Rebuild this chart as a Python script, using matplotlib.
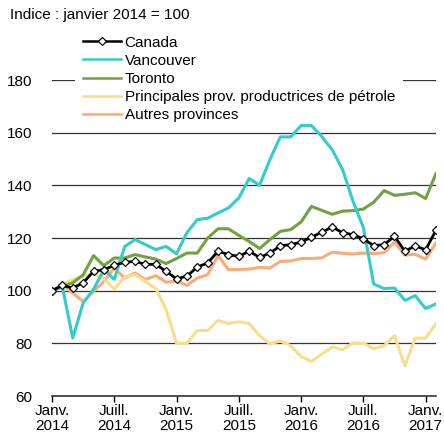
import matplotlib
matplotlib.use("Agg")
import matplotlib.pyplot as plt
import numpy as np

plt.rcParams['font.family'] = ['Liberation Sans', 'DejaVu Sans']
plt.rcParams['font.size'] = 11

# mois : janvier 2014 à février 2017
months = np.arange(38)
tick_pos = [0, 6, 12, 18, 24, 30, 36]
tick_labels = ["Janv.\n2014", "Juill.\n2014", "Janv.\n2015", "Juill.\n2015",
               "Janv.\n2016", "Juill.\n2016", "Janv.\n2017"]

canada = [100, 102, 101, 103, 107.3, 108, 109.6, 110.8, 111.1, 110, 110, 107.3,
          104.5, 105.5, 109, 110.5, 115, 113.7, 113, 115, 112.6, 114.3, 117, 117.5,
          118.4, 120.3, 122.2, 124.2, 122, 121.3, 119.7, 117.1, 117.5, 120.6, 115,
          117, 115.5, 123]
vancouver = [100, 101.5, 82, 95.3, 100.5, 108, 104.3, 116.7, 119.4, 117.5, 115.6,
             116.8, 114, 122, 127, 127.5, 129.5, 131.4, 135.2, 142.6, 140, 149.8,
             158.4, 158.4, 162.7, 162.7, 158.5, 153.5, 146, 134, 124, 102.5, 100.8,
             101, 96.3, 98.1, 93.2, 95]
toronto = [100, 101.6, 103, 106, 113.3, 109.5, 112.4, 112.4, 113.7, 112.8, 112,
           110.3, 112.2, 114.3, 114.3, 120, 123.5, 123.5, 121, 118.7, 116, 119.4,
           122.5, 123.2, 126.1, 132, 130.5, 129, 130.2, 130.4, 131, 133.6, 138,
           136.2, 136.6, 137.2, 135, 144.5]
petrole = [100, 102.3, 104.2, 105.4, 106.5, 104.6, 100.5, 105.3, 106.1, 103.5,
           100.8, 92.8, 80, 80, 84.9, 84.9, 88.7, 87.5, 88.2, 87.5, 82.9, 79.8,
           80.9, 79.1, 75, 73.1, 76, 78.6, 77.6, 80.1, 80.1, 77.9, 79.1, 82.9,
           71.5, 82, 82, 87.5]
autres = [100, 102.3, 99.1, 95.9, 99.7, 103.5, 108.6, 104.8, 106.7, 104.2, 105.7,
          103.2, 103.7, 102, 104.8, 106.1, 113.3, 108, 108, 108.2, 108.8, 108.6,
          111.1, 111.3, 112.2, 112.2, 112.5, 114.6, 114.2, 113.9, 114.3, 114.1,
          114.4, 118.5, 113.5, 113.8, 112, 118.1]

fig = plt.figure(figsize=(4.44, 4.37), dpi=100)
ax = fig.add_axes([52 / 444, 41 / 437, 384 / 444, 316 / 437])

lw = 2.2
ax.plot(months, autres, color="#FBAA78", lw=lw, label="Autres provinces", zorder=3)
ax.plot(months, petrole, color="#F9DD8A", lw=lw,
        label="Principales prov. productrices de pétrole", zorder=3)
ax.plot(months, toronto, color="#72A143", lw=lw, label="Toronto", zorder=3)
ax.plot(months, vancouver, color="#33CCC8", lw=lw, label="Vancouver", zorder=3)
ax.plot(months, canada, color="black", lw=2.0, marker="D", markersize=4.5,
        markerfacecolor="white", markeredgecolor="black", markeredgewidth=0.9,
        label="Canada", zorder=4)

ax.set_xlim(0, 37)
ax.set_ylim(60, 180)
ax.set_yticks(range(60, 181, 20))
ax.grid(axis="y", color="#333333", lw=0.9, zorder=1)
ax.set_axisbelow(True)
ax.set_xticks(tick_pos)
ax.set_xticklabels(tick_labels, linespacing=1.05)
ax.tick_params(axis="y", length=0, pad=14, labelsize=11)
ax.tick_params(axis="x", length=4, width=1, pad=2, labelsize=11)
for s in ["top", "right", "left"]:
    ax.spines[s].set_visible(False)
ax.spines["bottom"].set_color("#333333")
ax.spines["bottom"].set_linewidth(1.2)

handles, labels = ax.get_legend_handles_labels()
order = [4, 3, 2, 1, 0]
leg = ax.legend([handles[i] for i in order], [labels[i] for i in order],
                loc="upper left", bbox_to_anchor=(75 / 444, 1 - 28 / 437),
                bbox_transform=fig.transFigure,
                frameon=True, facecolor="white", edgecolor="none", fancybox=False,
                framealpha=1, handlelength=2.5, handletextpad=0.25,
                labelspacing=0.27, borderpad=0.5, borderaxespad=0, fontsize=11)
leg.set_zorder(2)
for line in leg.get_lines():
    line.set_linewidth(1.8)

fig.text(10 / 444, 1 - 15 / 437, "Indice : janvier 2014 = 100", va="center",
         ha="left", fontsize=11)

fig.savefig("out.png", dpi=100)
